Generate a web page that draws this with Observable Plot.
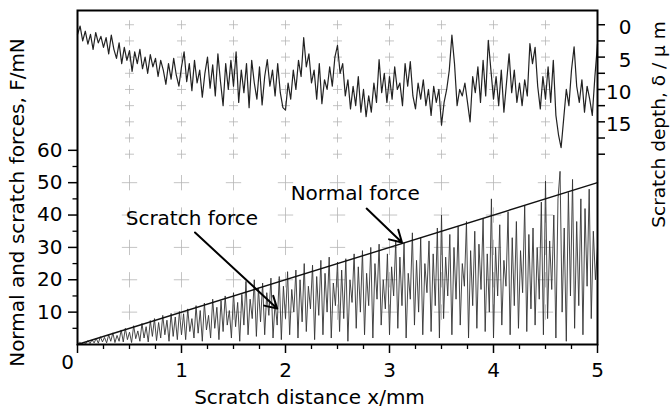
<!DOCTYPE html>
<html><head><meta charset="utf-8">
<script src="https://cdn.jsdelivr.net/npm/d3@7"></script>
<script src="https://cdn.jsdelivr.net/npm/@observablehq/plot@0.6"></script>
<style>html,body{margin:0;padding:0;background:#fff}</style>
</head><body><div id="chart"></div>
<script>
// ---- data ----
// scratch depth (µm) sampled every 0.025 mm from 0 to 5 mm
const depthStep = 0.025;
const depthValues = [
  1.5, 0.2, 2.5, 1.0, 3.0, 1.5, 3.8, 1.2, 2.8, 1.8,
  3.5, 2.0, 4.5, 1.6, 3.8, 5.2, 2.8, 6.0, 3.5, 5.5,
  4.0, 7.2, 4.2, 6.0, 3.8, 6.8, 5.0, 7.5, 4.6, 6.5,
  5.2, 8.0, 5.5, 7.0, 9.2, 6.0, 8.4, 5.2, 7.8, 9.5,
  6.5, 4.2, 8.8, 6.0, 10.2, 5.5, 9.0, 7.0, 11.2, 7.5,
  5.0, 9.8, 6.2, 11.0, 4.5, 8.8, 12.5, 6.0, 10.0, 5.5,
  9.5, 4.2, 12.0, 7.0, 10.5, 6.0, 12.8, 5.5, 9.0, 11.5,
  6.5, 12.4, 8.0, 5.4, 9.5, 7.0, 11.0, 6.0, 10.5, 12.8,
  13.2, 9.0, 11.5, 7.0, 10.0, 5.5, 8.0, 2.0, 6.5, 4.5,
  9.0, 7.0, 11.5, 6.0, 12.2, 8.5, 10.0, 6.5, 9.5, 5.0,
  3.2, 7.5, 6.0, 11.0, 8.5, 13.0, 9.5, 12.5, 8.0, 13.5,
  10.0, 14.2, 11.0, 13.5, 9.0, 12.0, 5.4, 10.5, 7.5, 12.0,
  8.0, 11.5, 6.5, 10.0, 9.0, 12.5, 6.0, 9.5, 5.7, 11.0,
  13.0, 9.0, 11.5, 8.5, 12.5, 10.0, 14.0, 9.5, 12.0, 10.0,
  15.5, 12.0, 10.0, 7.0, 1.6, 6.0, 12.5, 10.0, 11.0, 9.0,
  12.0, 15.0, 8.0, 10.5, 6.5, 12.0, 5.5, 11.0, 2.4, 7.0,
  11.5, 8.0, 12.5, 7.0, 13.5, 9.0, 4.5, 10.5, 7.0, 12.0,
  9.0, 12.5, 8.5, 11.0, 2.9, 6.0, 3.5, 9.5, 13.0, 8.0,
  11.5, 6.5, 12.0, 5.5, 14.0, 17.0, 19.0, 14.5, 10.0, 12.5,
  7.0, 3.4, 9.5, 12.0, 8.5, 13.5, 9.5, 11.5, 14.0, 8.0,
  3.0
];

// scratch force (mN) sampled every 0.02 mm from 0 to 5 mm
const scratchStep = 0.02;
const scratchForce = [
  0, 0.8, 0.1, 0.6, 0.2, 1.2, 0.3, 1.4, 0.5, 1.9,
  0.4, 2.4, 0.8, 2.2, 0.5, 3.0, 1.0, 3.6, 0.6, 2.8,
  1.0, 4.5, 0.8, 5.0, 1.5, 3.8, 0.6, 5.8, 1.8, 4.2,
  1.0, 6.5, 2.0, 5.5, 0.8, 7.4, 2.5, 8.0, 1.2, 6.8,
  2.0, 9.0, 3.0, 7.5, 1.0, 9.6, 2.5, 8.5, 1.5, 10.2,
  3.0, 9.5, 1.5, 11.0, 4.0, 8.0, 2.0, 12.0, 3.5, 10.5,
  1.0, 12.8, 4.5, 9.0, 2.0, 14.0, 5.0, 11.5, 1.5, 13.5,
  4.0, 15.0, 6.0, 10.5, 2.0, 16.0, 5.5, 13.0, 1.0, 15.5,
  6.0, 19.5, 3.0, 14.0, 8.0, 20.0, 2.5, 17.5, 7.0, 19.0,
  3.0, 16.0, 9.0, 20.5, 2.0, 13.0, 6.0, 21.0, 1.5, 18.0,
  8.0, 22.5, 3.0, 17.0, 10.0, 23.0, 2.0, 20.0, 7.0, 25.0,
  4.0, 18.0, 11.0, 24.5, 1.5, 21.0, 9.0, 26.0, 3.0, 22.0,
  10.0, 27.0, 2.0, 19.0, 12.0, 25.5, 4.0, 23.0, 8.0, 26.5,
  1.0, 20.0, 13.0, 28.0, 5.0, 24.0, 10.0, 29.0, 3.0, 22.0,
  12.0, 30.0, 2.0, 25.0, 14.0, 31.0, 6.0, 20.0, 11.0, 28.0,
  3.0, 24.0, 15.0, 32.0, 5.0, 27.0, 12.0, 31.5, 2.0, 22.0,
  14.0, 34.5, 6.0, 26.0, 10.0, 33.0, 3.0, 25.0, 16.0, 32.0,
  4.0, 28.0, 12.0, 36.0, 2.0, 40.0, 8.0, 27.0, 15.0, 34.0,
  3.0, 30.0, 14.0, 36.5, 6.0, 25.0, 18.0, 38.0, 2.0, 29.0,
  12.0, 35.0, 5.0, 31.0, 17.0, 39.0, 4.0, 28.0, 10.0, 45.0,
  2.0, 30.0, 15.0, 37.0, 6.0, 26.0, 18.0, 41.0, 3.0, 33.0,
  12.0, 38.0, 5.0, 29.0, 16.0, 43.0, 4.0, 34.0, 11.0, 36.0,
  6.0, 30.0, 14.0, 44.0, 3.0, 50.5, 8.0, 32.0, 17.0, 40.0,
  2.0, 45.0, 53.5, 10.0, 36.0, 1.0, 47.0, 15.0, 51.0, 5.0,
  38.0, 12.0, 45.0, 3.0, 42.0, 18.0, 48.0, 8.0, 35.0, 20.0,
  30.0
];

// normal force: linear ramp
const normalDistance = [0, 5];
const normalForce = [0, 50];

// axis ticks
const xMajorTicks = [0, 1, 2, 3, 4, 5];
const xMinorTicks = [0.25, 0.5, 0.75, 1.25, 1.5, 1.75, 2.25, 2.5, 2.75, 3.25, 3.5, 3.75, 4.25, 4.5, 4.75];
const forceMajorTicks = [10, 20, 30, 40, 50, 60];
const forceMinorTicks = [5, 15, 25, 35, 45, 55];
const depthTicks = [0, 2.5, 5, 7.5, 10, 12.5, 15, 17.5, 20];
const depthLabels = [0, 5, 10, 15];

// background grid marks
const gridCols = [0.5, 1, 1.5, 2, 2.5, 3, 3.5, 4, 4.5];
const depthGridRows = [0, 2.5, 5, 7.5, 10, 12.5, 15, 17.5, 20];
const forceGridRows = [10, 20, 30, 40, 50];

// annotations
const labelTexts = ["Scratch force", "Normal force"];
const labelX = [1.1, 2.67];
const labelY = [38.9, 46.7];
const arrowFrom = [[1.13, 34.6], [2.78, 42.0]];
const arrowTo = [[1.92, 11.1], [3.12, 31.5]];

// ---- derived tables ----
// depth is drawn on the shared vertical scale: 0 µm at 98.8, 2 units per µm, downwards
const depthToY = d => 98.8 - 2 * d;

const depthData = depthValues.map((d, i) => ({x: i * depthStep, d}));
const scratchData = scratchForce.map((f, i) => ({x: i * scratchStep, f}));
const normalData = normalDistance.map((x, i) => ({x, f: normalForce[i]}));
const smallGrid = d3.cross(gridCols, depthGridRows).map(([x, d]) => ({x, y: depthToY(d)}));
const bigGrid = d3.cross(gridCols, forceGridRows).map(([x, f]) => ({x, y: f}));
const labels = labelTexts.map((t, i) => ({t, x: labelX[i], y: labelY[i]}));
const arrows = arrowFrom.map((a, i) => ({x1: a[0], y1: a[1], x2: arrowTo[i][0], y2: arrowTo[i][1]}));

const FONT = "DejaVu Sans";

const chart = Plot.plot({
  width: 671,
  height: 414,
  marginLeft: 77,
  marginRight: 74,
  marginTop: 10,
  marginBottom: 70,
  x: {domain: [0, 5]},
  y: {domain: [0, 103.2]},
  style: {fontFamily: FONT, fontSize: "20px", color: "#000", background: "#fff"},
  marks: [
    Plot.dot(smallGrid, {x: "x", y: "y", symbol: "plus", r: 3, stroke: "#b5b5b5", strokeWidth: 0.8}),
    Plot.dot(bigGrid, {x: "x", y: "y", symbol: "plus", r: 5, stroke: "#b5b5b5", strokeWidth: 0.8}),
    Plot.line(scratchData, {x: "x", y: "f", stroke: "#333", strokeWidth: 0.9}),
    Plot.line(normalData, {x: "x", y: "f", stroke: "#111", strokeWidth: 1.4}),
    Plot.line(depthData, {x: "x", y: d => depthToY(d.d), stroke: "#222", strokeWidth: 1.2}),
    Plot.frame({stroke: "#000", strokeWidth: 2}),
    // bottom axis
    Plot.axisX({ticks: xMinorTicks, tickSize: 5, tickFormat: () => "", label: null, strokeWidth: 1.3}),
    Plot.axisX({ticks: xMajorTicks, tickSize: 9, tickPadding: 9, tickFormat: d => d === 0 ? "" : String(d),
                label: null, fontSize: 20, strokeWidth: 1.5}),
    // left axis
    Plot.axisY({ticks: forceMinorTicks, tickSize: 4.5, tickFormat: () => "", label: null, strokeWidth: 1.3}),
    Plot.axisY({ticks: forceMajorTicks, tickSize: 9, tickPadding: 6, label: null, fontSize: 20, strokeWidth: 1.5}),
    // right axis (depth)
    Plot.axisY({anchor: "right", ticks: depthTicks.map(depthToY), tickSize: 7, tickFormat: () => "", label: null, strokeWidth: 1.5}),
    Plot.text(depthLabels, {y: d => depthToY(d), text: d => String(d), frameAnchor: "right", dx: 34, dy: 3,
                            textAnchor: "end", fontSize: 20}),
    // origin label
    Plot.text(["0"], {frameAnchor: "bottom-left", dx: -10, dy: 18, textAnchor: "middle", lineAnchor: "middle", fontSize: 20}),
    // axis titles
    Plot.text(["Scratch distance x/mm"], {frameAnchor: "bottom", dx: -28, dy: 53, textAnchor: "middle", lineAnchor: "middle", fontSize: 20}),
    Plot.text(["Normal and scratch forces, F/mN"], {frameAnchor: "left", rotate: -90, dx: -59.5, dy: 25,
                                                   textAnchor: "middle", lineAnchor: "middle", fontSize: 20}),
    Plot.text(["Scratch depth, δ / μ m"], {frameAnchor: "right", rotate: -90, dx: 62, dy: -53,
                                          textAnchor: "middle", lineAnchor: "middle", fontSize: 18.5}),
    // annotations
    Plot.text(labels, {x: "x", y: "y", text: "t", fontSize: 20}),
    Plot.arrow(arrows, {x1: "x1", y1: "y1", x2: "x2", y2: "y2", stroke: "#000", strokeWidth: 2, headLength: 10})
  ]
});
document.getElementById("chart").appendChild(chart);
</script>
</body></html>
